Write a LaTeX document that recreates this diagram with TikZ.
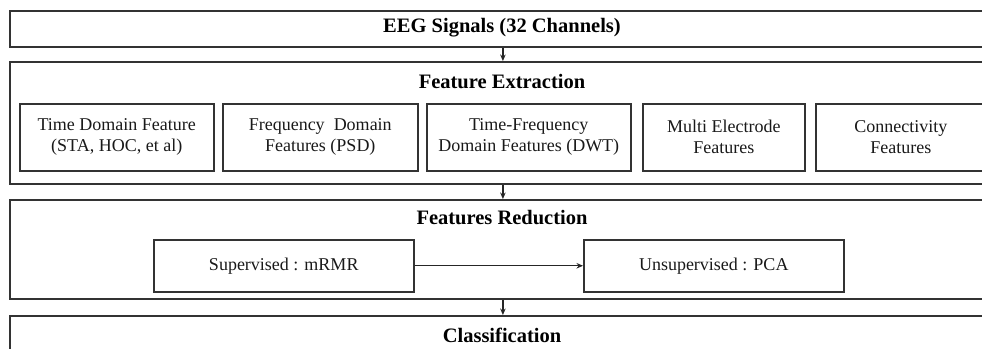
\documentclass[tikz,border=0pt]{standalone}
\usepackage{fontspec}
\setmainfont{Liberation Serif}
\usetikzlibrary{arrows.meta}
\begin{document}
\begin{tikzpicture}[x=1pt,y=-1pt,
  outerbox/.style={draw=black!80, line width=1.8pt, anchor=north west, inner sep=0pt},
  innerbox/.style={draw=black!80, line width=1.5pt, anchor=north west, inner sep=0pt, align=center,
     text=black!90, font=\fontsize{18}{21}\selectfont},
  titletext/.style={font=\fontsize{20.5}{24}\selectfont\bfseries, inner sep=0pt},
  flow/.style={draw=black!85, line width=1.2pt, -{Stealth[length=6.5pt,width=5.5pt]}}]
\useasboundingbox (0,0) rectangle (982,348);
\clip (0,0) rectangle (982,348);
% outer stages
\node[outerbox, minimum width=986pt, minimum height=36pt] (eeg) at (9,10) {};
\node[outerbox, minimum width=986pt, minimum height=122pt] (fe) at (9,61) {};
\node[outerbox, minimum width=986pt, minimum height=99pt] (fr) at (9,199) {};
\node[outerbox, minimum width=986pt, minimum height=80pt] (cl) at (9,315) {};
% titles
\node[titletext] (eegt) at (502,28) {EEG Signals (32 Channels)};
\node[titletext] (fet) at (502,82) {Feature Extraction};
\node[titletext] (frt) at (502,218) {Features Reduction};
\node[titletext] (clt) at (502,335) {Classification};
% feature boxes
\node[innerbox, minimum width=194pt, minimum height=67pt] (f1) at (19,103) {Time Domain Feature\\(STA, HOC, et al)};
\node[innerbox, minimum width=195pt, minimum height=67pt] (f2) at (222,103) {Frequency\ \ Domain\\Features (PSD)};
\node[innerbox, minimum width=204pt, minimum height=67pt] (f3) at (426,103) {Time-Frequency\\Domain Features (DWT)};
\node[innerbox, minimum width=162pt, minimum height=67pt] (f4) at (642,103) {Multi Electrode\\Features};
\node[innerbox, minimum width=170pt, minimum height=67pt] (f5) at (815,103) {Connectivity\\Features};
% reduction boxes
\node[innerbox, minimum width=260pt, minimum height=52pt] (sup) at (153,239) {Supervised : mRMR};
\node[innerbox, minimum width=260pt, minimum height=52pt] (uns) at (583,239) {Unsupervised : PCA};
% connectors
\draw[flow] (eeg.south) -- (fe.north);
\draw[flow] (fe.south) -- (fr.north);
\draw[flow] (fr.south) -- (cl.north);
\draw[flow] (sup.east) -- (uns.west);
\end{tikzpicture}
\end{document}
